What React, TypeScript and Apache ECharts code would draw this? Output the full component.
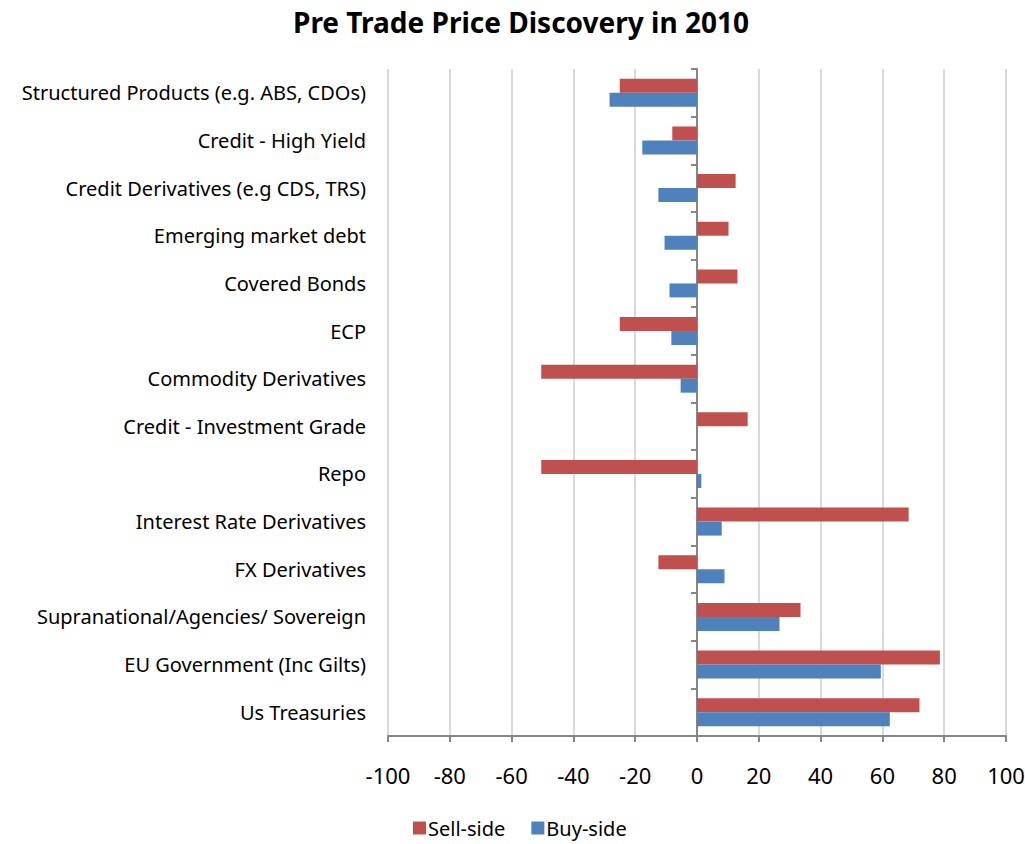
import React, { useEffect, useRef } from "react";
import * as echarts from "echarts";

// Categories listed bottom-to-top (ECharts category y-axis starts at the bottom)
const categories = [
  "Us Treasuries",
  "EU Government (Inc Gilts)",
  "Supranational/Agencies/ Sovereign",
  "FX Derivatives",
  "Interest Rate Derivatives",
  "Repo",
  "Credit - Investment Grade",
  "Commodity Derivatives",
  "ECP",
  "Covered Bonds",
  "Emerging market debt",
  "Credit Derivatives (e.g CDS, TRS)",
  "Credit - High Yield",
  "Structured Products (e.g. ABS, CDOs)",
];

const sellSide = [72, 78.6, 33.5, -12.5, 68.5, -50.4, 16.4, -50.4, -25, 13.1, 10.2, 12.5, -8, -25];
const buySide = [62.4, 59.5, 26.7, 8.9, 8, 1.4, 0, -5.3, -8.3, -8.9, -10.5, -12.5, -17.7, -28.3];

const xTicks = { min: -100, max: 100, interval: 20 };

const FONT = "'Noto Sans', 'Open Sans', sans-serif";

export default function App() {
  const ref = useRef<HTMLDivElement>(null);

  useEffect(() => {
    if (!ref.current) return;
    const chart = echarts.init(ref.current, undefined, { renderer: "svg" });
    chart.setOption({
      animation: false,
      backgroundColor: "#ffffff",
      textStyle: { fontFamily: FONT },
      title: {
        text: "Pre Trade Price Discovery in 2010",
        left: 516,
        textAlign: "center",
        top: 3,
        textStyle: { fontFamily: FONT, fontSize: 28, fontWeight: "bold", color: "#000000" },
      },
      legend: {
        data: ["Sell-side", "Buy-side"],
        left: 413,
        top: 818,
        padding: 0,
        icon: "rect",
        itemWidth: 13,
        itemHeight: 13,
        itemGap: 26,
        textStyle: { fontFamily: FONT, fontSize: 20, color: "#000000", padding: [0, 0, 0, -3] },
      },
      grid: { left: 388, right: 19, top: 69, bottom: 108, containLabel: false, outerBoundsMode: "none" },
      xAxis: {
        type: "value",
        min: xTicks.min,
        max: xTicks.max,
        interval: xTicks.interval,
        position: "bottom",
        axisLine: { show: true, onZero: false, lineStyle: { color: "#868686", width: 2 } },
        axisTick: { show: true, length: 6, lineStyle: { color: "#868686", width: 2 } },
        axisLabel: { color: "#000000", fontSize: 22, fontFamily: FONT, margin: 28 },
        splitLine: { show: true, lineStyle: { color: "#d9d9d9", width: 2 } },
      },
      yAxis: {
        type: "category",
        data: categories,
        axisLine: { show: true, onZero: true, lineStyle: { color: "#868686", width: 2 } },
        axisTick: { show: true, length: 6, lineStyle: { color: "#868686", width: 2 } },
        axisLabel: { color: "#000000", fontSize: 20, fontFamily: FONT, margin: 22 },
        splitLine: { show: false },
      },
      series: [
        {
          name: "Sell-side",
          type: "bar",
          data: sellSide,
          barWidth: 14,
          barGap: "0%",
          itemStyle: { color: "#C0504D" },
        },
        {
          name: "Buy-side",
          type: "bar",
          data: buySide,
          barWidth: 14,
          barGap: "0%",
          itemStyle: { color: "#4F81BD" },
        },
      ],
    });
    return () => chart.dispose();
  }, []);

  return (
    <div
      ref={ref}
      style={{ position: "absolute", left: 0, top: 0, width: 1025, height: 844 }}
    />
  );
}
